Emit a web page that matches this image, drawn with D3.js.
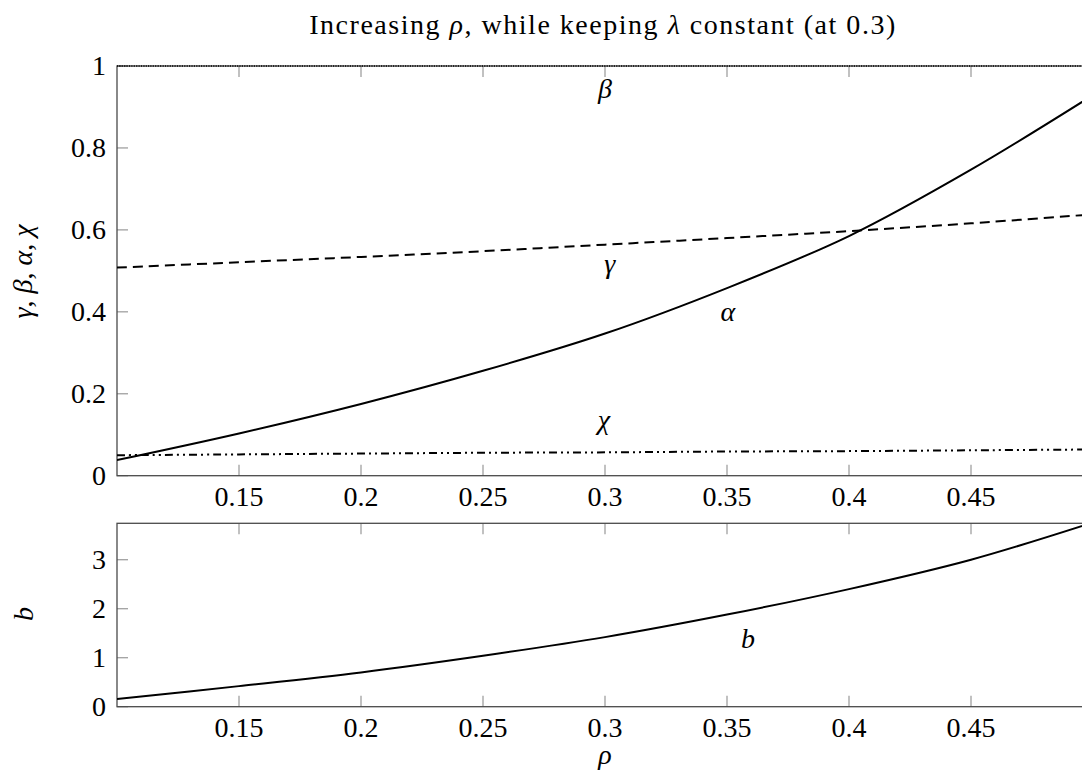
<!DOCTYPE html>
<html>
<head>
<meta charset="utf-8">
<script src="https://cdn.jsdelivr.net/npm/d3@7"></script>
<style>
  html, body { margin: 0; padding: 0; background: #fff; }
  svg { display: block; }
  text { fill: #000; font-family: "Liberation Serif", "DejaVu Serif", "Times New Roman", serif; }
</style>
</head>
<body>
<svg id="chart" width="1082" height="774"></svg>
<script>
// rho grid and the computed quantities at each rho (lambda fixed at 0.3)
const rho   = [0.1, 0.15, 0.2, 0.25, 0.3, 0.35, 0.4, 0.45, 0.5];
const alpha = [0.038, 0.103, 0.175, 0.256, 0.347, 0.458, 0.585, 0.747, 0.929];
const gamma = [0.508, 0.521, 0.534, 0.548, 0.564, 0.580, 0.597, 0.616, 0.638];
const chi   = [0.050, 0.052, 0.054, 0.056, 0.057, 0.059, 0.060, 0.062, 0.064];
const beta  = [1, 1, 1, 1, 1, 1, 1, 1, 1];
const bVals = [0.157, 0.42, 0.70, 1.04, 1.42, 1.88, 2.40, 3.00, 3.76];

const xTicks    = [0.15, 0.2, 0.25, 0.3, 0.35, 0.4, 0.45];
const yTicksTop = [0, 0.2, 0.4, 0.6, 0.8, 1];
const yTicksBot = [0, 1, 2, 3];

const titleParts = [["Increasing ", false], ["ρ", true], [", while keeping ", false], ["λ", true], [" constant (at 0.3)", false]];

// curve labels: [text, rho, value] (value = baseline position)
const topLabels = [["β", 0.3, 0.922], ["γ", 0.302, 0.494], ["α", 0.3504, 0.378], ["χ", 0.2996, 0.114]];
const botLabels = [["b", 0.3586, 1.2]];

const FONT = "'Liberation Serif', 'DejaVu Serif', serif";
const svg = d3.select("#chart").attr("font-family", FONT);
const FS = 28;

const x = d3.scaleLinear().domain([0.1, 0.5]).range([117, 1093]);
const yTop = d3.scaleLinear().domain([0, 1]).range([475.7, 66]);
const yBot = d3.scaleLinear().domain([0, 3.743]).range([706.7, 523.3]);

function txt(sel) {
  return sel.append("text").attr("font-family", FONT).attr("font-size", FS);
}

function panel(y, yTicks, series, labels, clipId) {
  const [x0, x1] = x.range();
  const [yb, yt] = y.range();
  const g = svg.append("g");

  svg.append("clipPath").attr("id", clipId)
    .append("rect").attr("x", x0).attr("y", yt - 2).attr("width", x1 - x0).attr("height", yb - yt + 4);

  // tick marks, pointing inward on all four sides
  const tickLen = 11;
  const tg = g.append("g").attr("stroke", "#a0a0a0").attr("stroke-width", 1.3);
  xTicks.forEach(t => {
    tg.append("line").attr("x1", x(t)).attr("x2", x(t)).attr("y1", yb).attr("y2", yb - tickLen);
    tg.append("line").attr("x1", x(t)).attr("x2", x(t)).attr("y1", yt).attr("y2", yt + tickLen);
  });
  yTicks.forEach(t => {
    tg.append("line").attr("x1", x0).attr("x2", x0 + tickLen).attr("y1", y(t)).attr("y2", y(t));
    tg.append("line").attr("x1", x1).attr("x2", x1 - tickLen).attr("y1", y(t)).attr("y2", y(t));
  });

  // frame
  g.append("rect").attr("x", x0).attr("y", yt).attr("width", x1 - x0).attr("height", yb - yt)
    .attr("fill", "none").attr("stroke", "#4a4a4a").attr("stroke-width", 1.3);

  // tick labels
  xTicks.forEach(t => {
    txt(g).attr("x", x(t)).attr("y", yb + 30.5).attr("text-anchor", "middle").text(String(t));
  });
  yTicks.forEach(t => {
    txt(g).attr("x", x0 - 11).attr("y", y(t)).attr("dy", "0.33em").attr("text-anchor", "end").text(String(t));
  });

  // data lines
  const lg = g.append("g").attr("clip-path", `url(#${clipId})`).attr("fill", "none");
  series.forEach(s => {
    const line = d3.line().x((d, i) => x(rho[i])).y(d => y(d)).curve(d3.curveCatmullRom.alpha(0.5));
    lg.append("path").datum(s.values).attr("d", line)
      .attr("stroke", "#000").attr("stroke-width", s.width)
      .attr("stroke-dasharray", s.dash || null);
  });

  labels.forEach(([t, r, v]) => {
    txt(g).attr("x", x(r)).attr("y", y(v)).attr("text-anchor", "middle")
      .attr("font-style", "italic").text(t);
  });
}

panel(yTop, yTicksTop, [
  { values: gamma, width: 2, dash: "10,6" },
  { values: alpha, width: 2 },
  { values: chi, width: 2, dash: "8,4,2,4,2,4" },
  { values: beta, width: 1.3, dash: "1.2,1.2" }
], topLabels, "clipTop");

panel(yBot, yTicksBot, [
  { values: bVals, width: 2 }
], botLabels, "clipBot");

// title
const title = txt(svg).attr("x", 603).attr("y", 34).attr("text-anchor", "middle");
titleParts.forEach(([t, it]) => title.append("tspan").attr("font-style", it ? "italic" : null).text(t));
const tw = title.node().getComputedTextLength();
const nChars = titleParts.map(p => p[0]).join("").length;
title.attr("letter-spacing", ((586 - tw) / (nChars - 1)).toFixed(3) + "px");

// y axis labels
const yl = txt(svg).attr("transform", "translate(32,271.5) rotate(-90)").attr("text-anchor", "middle");
[["γ", true], [", ", false], ["β", true], [", ", false], ["α", true], [", ", false], ["χ", true]]
  .forEach(([t, it]) => yl.append("tspan").attr("font-style", it ? "italic" : null).text(t));

txt(svg).attr("transform", "translate(33,614) rotate(-90)")
  .attr("text-anchor", "middle").attr("font-style", "italic").text("b");

// x axis label
txt(svg).attr("x", 605).attr("y", 764).attr("text-anchor", "middle")
  .attr("font-style", "italic").text("ρ");
</script>
</body>
</html>
